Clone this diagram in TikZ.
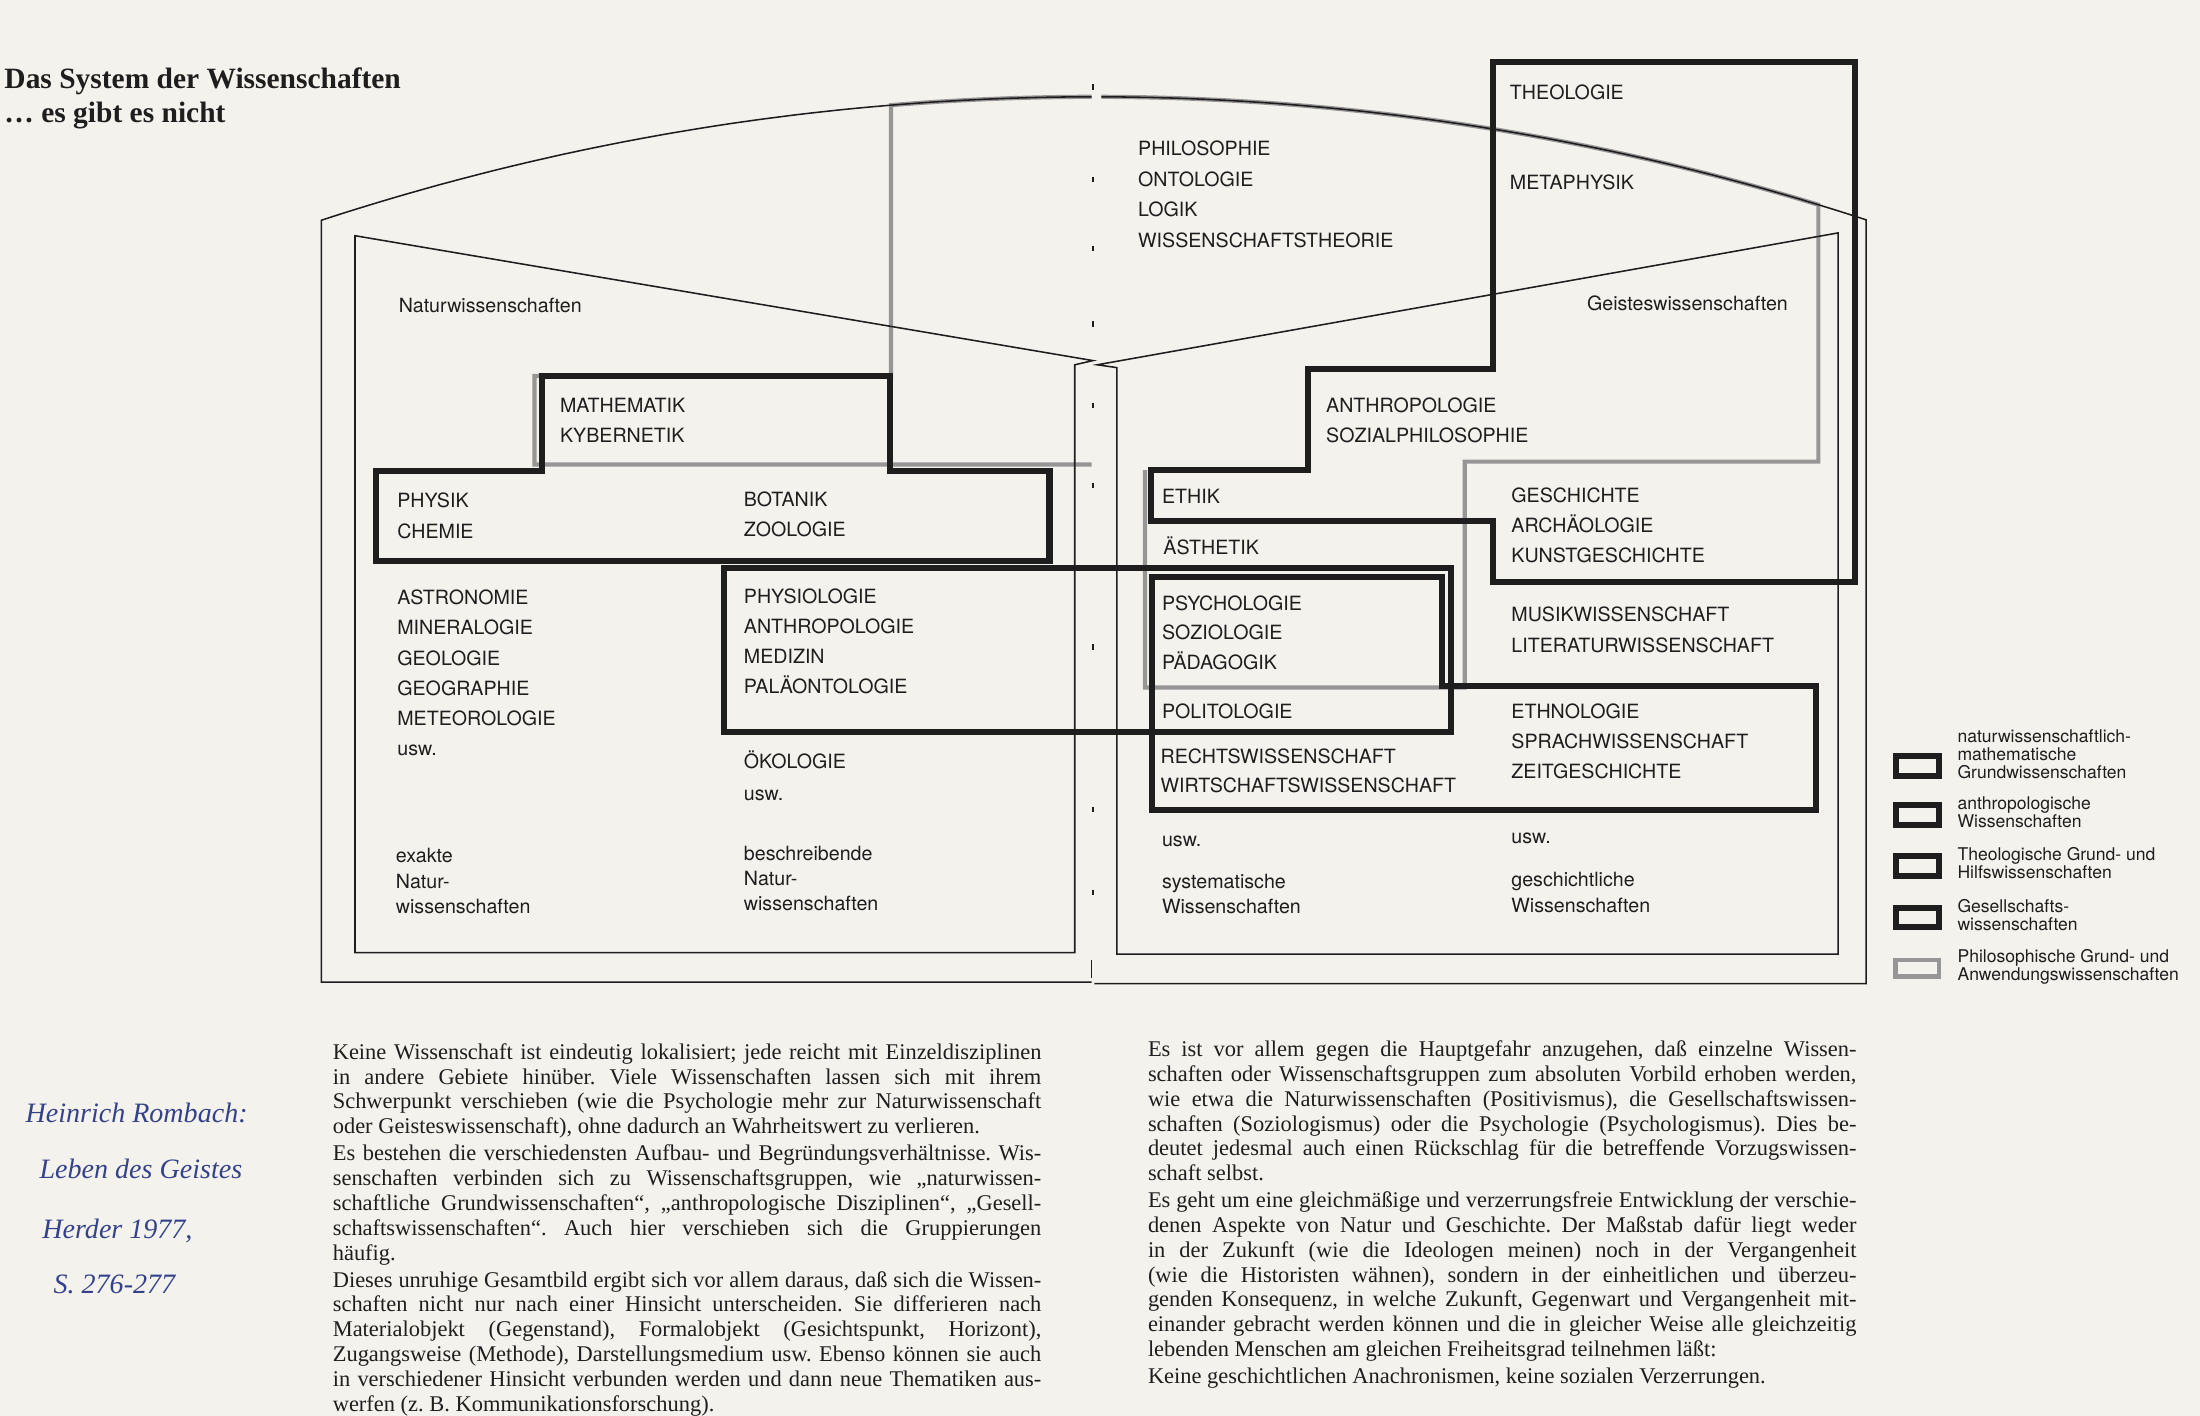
\documentclass[tikz,border=0pt]{standalone}
\usepackage{fontspec}
\setmainfont{Liberation Serif}
\newfontfamily\helv{TeX Gyre Heros}
\frenchspacing
\definecolor{paper}{RGB}{244,242,236}
\definecolor{ink}{RGB}{30,30,30}
\definecolor{philgray}{RGB}{150,150,150}
\definecolor{pen}{RGB}{52,66,138}
\newcommand{\stk}[1]{\begin{tabular}[t]{@{}l@{}}#1\end{tabular}}
\newcommand{\arcfn}[1]{1838-1769*sqrt(1-((#1-780)/1769)^2)}
\tikzset{
  caps/.style={anchor=base west, inner sep=0pt, text=ink, font=\helv\fontsize{14}{21.5}\selectfont},
  lower/.style={anchor=base west, inner sep=0pt, text=ink, font=\helv\fontsize{14}{18}\selectfont},
  legtext/.style={anchor=base west, inner sep=0pt, text=ink, font=\helv\fontsize{12.5}{12.6}\selectfont},
  para/.style={anchor=base west, inner sep=0pt, text=ink, font=\fontsize{16}{17.7}\selectfont},
  hand/.style={anchor=base west, inner sep=0pt, text=pen, font=\itshape\fontsize{20}{24}\selectfont},
  titletext/.style={anchor=base west, inner sep=0pt, text=ink, font=\bfseries\fontsize{21}{24}\selectfont},
  box/.style={draw=ink, line width=4.3pt, line join=miter},
  thinline/.style={draw=ink, line width=1.1pt},
  phil/.style={draw=philgray, line width=3pt},
}
\begin{document}
\begin{tikzpicture}[x=1pt,y=-1pt]
\fill[paper] (0,0) rectangle (1568,1009);
\useasboundingbox (0,0) rectangle (1568,1009);

% title
\node[titletext] (title) at (3,63) {\stk{Das System der Wissenschaften\\… es gibt es nicht}};

% philosophical (gray) region
\draw[phil] (778,331) -- (381,331) -- (381,268) -- (635,268) -- (635,75)
  -- plot[domain=635:778,samples=30] (\x,{\arcfn{\x}});
\draw[phil] plot[domain=785:1296,samples=60] (\x,{\arcfn{\x}})
  -- (1296,329) -- (1044,329) -- (1044,490) -- (816,490) -- (816,335);

% outer book outline
\draw[thinline] (778,700) -- (229,700) -- (229,157) -- plot[domain=229:778,samples=80] (\x,{\arcfn{\x}});
\draw[thinline] (780,701) -- (1330,701) -- (1330,157) -- plot[domain=1330:785,samples=80] (\x,{\arcfn{\x}});
% inner pages
\draw[thinline] (253,168) -- (779,257) -- (766,260) -- (766,679) -- (253,679) -- cycle;
\draw[thinline] (782,260) -- (1310,166) -- (1310,680) -- (796,680) -- (796,262) -- cycle;
% spine marks
\foreach \t in {62,128,177,231,289,346,461,577,636}{
  \draw[thinline] (779,\t) ++(0,-2) -- ++(0,4);
}
\draw[thinline] (778,684) -- (778,697);

% group boxes
\draw[box] (386,268) -- (634,268) -- (634,336) -- (748,336) -- (748,400) -- (268,400) -- (268,336) -- (386,336) -- cycle;
\draw[box] (516,405) rectangle (1034,522);
\draw[box] (1064,44) -- (1322,44) -- (1322,415) -- (1064,415) -- (1064,371) -- (820,371) -- (820,335) -- (932,335) -- (932,263) -- (1064,263) -- cycle;
\draw[box] (821,411) -- (1028,411) -- (1028,489) -- (1294,489) -- (1294,577) -- (821,577) -- cycle;

% left page labels
\node[lower] (natw) at (284,223) {Naturwissenschaften};
\node[caps] (math) at (399,294) {\stk{MATHEMATIK\\KYBERNETIK}};
\node[caps] (phys) at (283,362) {\stk{PHYSIK\\CHEMIE}};
\node[caps] (bota) at (530,361) {\stk{BOTANIK\\ZOOLOGIE}};
\node[caps] (astr) at (283,431) {\stk{ASTRONOMIE\\MINERALOGIE\\GEOLOGIE\\GEOGRAPHIE\\METEOROLOGIE\\usw.}};
\node[caps] (phsl) at (530,430) {\stk{PHYSIOLOGIE\\ANTHROPOLOGIE\\MEDIZIN\\PALÄONTOLOGIE}};
\node[caps, font=\helv\fontsize{14}{22.5}\selectfont] (oeko) at (530,548) {\stk{ÖKOLOGIE\\usw.}};
\node[lower] (exak) at (282,615) {\stk{exakte\\Natur-\\wissenschaften}};
\node[lower] (besc) at (530,613) {\stk{beschreibende\\Natur-\\wissenschaften}};

% centre
\node[caps, font=\helv\fontsize{14}{21.7}\selectfont] (philo) at (811,111) {\stk{PHILOSOPHIE\\ONTOLOGIE\\LOGIK\\WISSENSCHAFTSTHEORIE}};

% right page labels
\node[caps] (theo) at (1076,71) {THEOLOGIE};
\node[caps] (meta) at (1076,135) {METAPHYSIK};
\node[lower] (geis) at (1131,221) {Geisteswissenschaften};
\node[caps] (anth) at (945,294) {\stk{ANTHROPOLOGIE\\SOZIALPHILOSOPHIE}};
\node[caps] (ethi) at (828,359) {ETHIK};
\node[caps] (aest) at (829,395) {ÄSTHETIK};
\node[caps, font=\helv\fontsize{14}{21}\selectfont] (psyc) at (828,435) {\stk{PSYCHOLOGIE\\SOZIOLOGIE\\PÄDAGOGIK}};
\node[caps] (poli) at (828,512) {POLITOLOGIE};
\node[caps, font=\helv\fontsize{14}{21}\selectfont] (rech) at (827,544) {\stk{RECHTSWISSENSCHAFT\\WIRTSCHAFTSWISSENSCHAFT}};
\node[caps] (gesc) at (1077,358) {\stk{GESCHICHTE\\ARCHÄOLOGIE\\KUNSTGESCHICHTE}};
\node[caps, font=\helv\fontsize{14}{22}\selectfont] (musi) at (1077,443) {\stk{MUSIKWISSENSCHAFT\\LITERATURWISSENSCHAFT}};
\node[caps] (ethn) at (1077,512) {\stk{ETHNOLOGIE\\SPRACHWISSENSCHAFT\\ZEITGESCHICHTE}};
\node[lower] (usw1) at (828,603) {usw.};
\node[lower] (usw2) at (1077,601) {usw.};
\node[lower] (syst) at (828,633) {\stk{systematische\\Wissenschaften}};
\node[lower] (gsch) at (1077,632) {\stk{geschichtliche\\Wissenschaften}};

% legend
\draw[box] (1351,539) rectangle (1382,553);
\draw[box] (1351,574) rectangle (1382,588);
\draw[box] (1351,610) rectangle (1382,624);
\draw[box] (1351,647) rectangle (1382,661);
\draw[phil] (1351,684) rectangle (1382,696);
\node[legtext] (lg1) at (1395,529) {\stk{naturwissenschaftlich-\\mathematische\\Grundwissenschaften}};
\node[legtext] (lg2) at (1395,577) {\stk{anthropologische\\Wissenschaften}};
\node[legtext] (lg3) at (1395,613) {\stk{Theologische Grund- und\\Hilfswissenschaften}};
\node[legtext] (lg4) at (1395,650) {\stk{Gesellschafts-\\wissenschaften}};
\node[legtext] (lg5) at (1395,686) {\stk{Philosophische Grund- und\\Anwendungswissenschaften}};

% handwritten note
\node[hand] (h1) at (18,800) {Heinrich Rombach:};
\node[hand] (h2) at (28,840) {Leben des Geistes};
\node[hand] (h3) at (30,883) {Herder 1977,};
\node[hand] (h4) at (38,922) {S. 276-277};

% body text
\node[para] (pl) at (237,755) {\parbox[t]{505pt}{\parindent0pt\parskip1.5pt\hyphenpenalty10000\exhyphenpenalty10000\hbadness10000\hfuzz8pt
Keine Wissenschaft ist eindeutig lokalisiert; jede reicht mit Einzeldisziplinen\linebreak
in andere Gebiete hinüber. Viele Wissenschaften lassen sich mit ihrem\linebreak
Schwerpunkt verschieben (wie die Psychologie mehr zur Naturwissenschaft\linebreak
oder Geisteswissenschaft), ohne dadurch an Wahrheitswert zu verlieren.\par
Es bestehen die verschiedensten Aufbau- und Begründungsverhältnisse. Wis-\linebreak
senschaften verbinden sich zu Wissenschaftsgruppen, wie „naturwissen-\linebreak
schaftliche Grundwissenschaften“, „anthropologische Disziplinen“, „Gesell-\linebreak
schaftswissenschaften“. Auch hier verschieben sich die Gruppierungen\linebreak
häufig.\par
Dieses unruhige Gesamtbild ergibt sich vor allem daraus, daß sich die Wissen-\linebreak
schaften nicht nur nach einer Hinsicht unterscheiden. Sie differieren nach\linebreak
Materialobjekt (Gegenstand), Formalobjekt (Gesichtspunkt, Horizont),\linebreak
Zugangsweise (Methode), Darstellungsmedium usw. Ebenso können sie auch\linebreak
in verschiedener Hinsicht verbunden werden und dann neue Thematiken aus-\linebreak
werfen (z. B. Kommunikationsforschung).}};

\node[para] (pr) at (818,753) {\parbox[t]{505pt}{\parindent0pt\parskip1.5pt\hyphenpenalty10000\exhyphenpenalty10000\hbadness10000\hfuzz8pt
Es ist vor allem gegen die Hauptgefahr anzugehen, daß einzelne Wissen-\linebreak
schaften oder Wissenschaftsgruppen zum absoluten Vorbild erhoben werden,\linebreak
wie etwa die Naturwissenschaften (Positivismus), die Gesellschaftswissen-\linebreak
schaften (Soziologismus) oder die Psychologie (Psychologismus). Dies be-\linebreak
deutet jedesmal auch einen Rückschlag für die betreffende Vorzugswissen-\linebreak
schaft selbst.\par
Es geht um eine gleichmäßige und verzerrungsfreie Entwicklung der verschie-\linebreak
denen Aspekte von Natur und Geschichte. Der Maßstab dafür liegt weder\linebreak
in der Zukunft (wie die Ideologen meinen) noch in der Vergangenheit\linebreak
(wie die Historisten wähnen), sondern in der einheitlichen und überzeu-\linebreak
genden Konsequenz, in welche Zukunft, Gegenwart und Vergangenheit mit-\linebreak
einander gebracht werden können und die in gleicher Weise alle gleichzeitig\linebreak
lebenden Menschen am gleichen Freiheitsgrad teilnehmen läßt:\par
Keine geschichtlichen Anachronismen, keine sozialen Verzerrungen.}};
\end{tikzpicture}
\end{document}
